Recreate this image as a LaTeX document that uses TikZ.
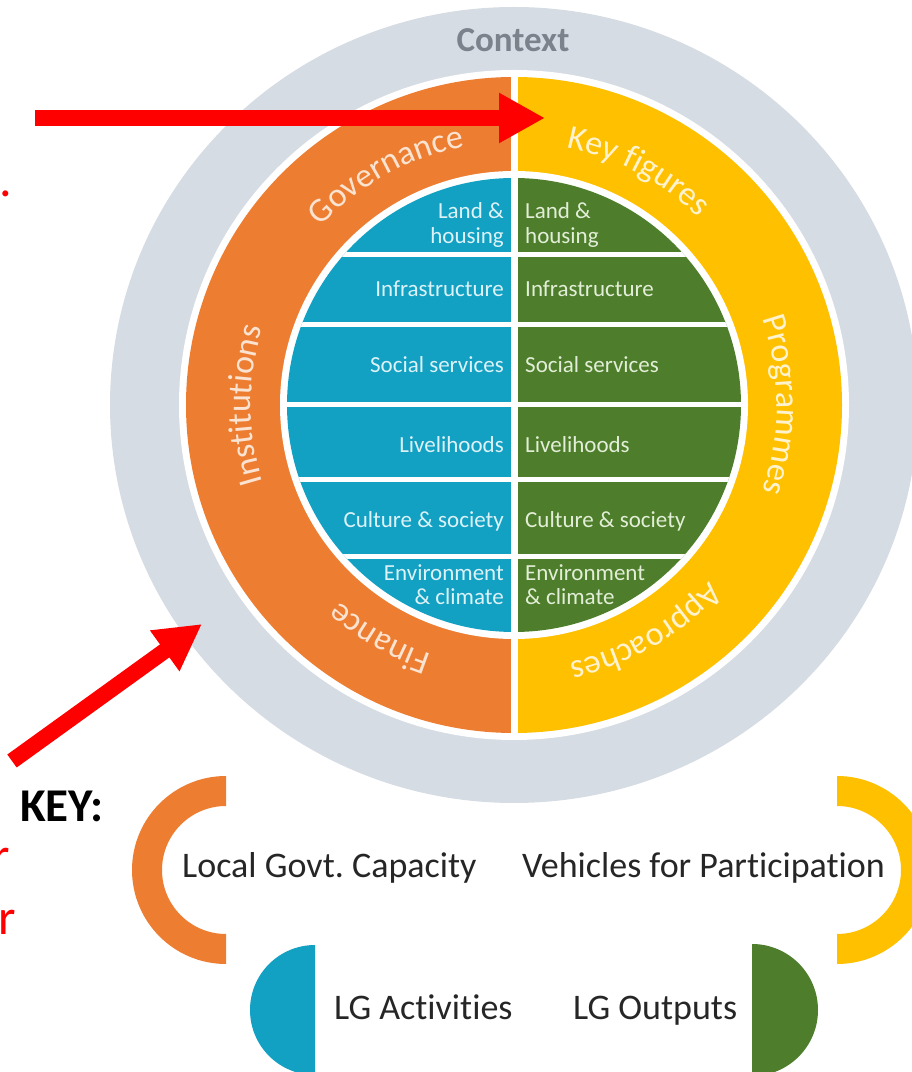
\documentclass[tikz,border=0pt]{standalone}
\usepackage{fontspec}
\setmainfont{Carlito}[Ligatures=NoCommon]
\usetikzlibrary{arrows.meta,decorations.text}

\definecolor{ctxgray}{HTML}{D6DCE4}
\definecolor{ctxtext}{HTML}{7C828C}
\definecolor{capacity}{HTML}{ED7D31}
\definecolor{vehicles}{HTML}{FFC000}
\definecolor{activities}{HTML}{12A1C3}
\definecolor{outputs}{HTML}{4E7E2B}
\definecolor{onorange}{HTML}{FBE3D2}
\definecolor{onyellow}{HTML}{FFF3CF}
\definecolor{onblue}{HTML}{DDF2F7}
\definecolor{ongreen}{HTML}{E3EED8}
\newcommand{\ringfont}{\fontsize{34}{34}\selectfont}

\begin{document}
\begin{tikzpicture}
   [x=1pt,y=1pt,every node/.style={inner sep=0pt},
    rowtext/.style={font=\fontsize{23}{25}\selectfont},
    keytext/.style={anchor=base west,text=black!85,font=\fontsize{36}{38}\selectfont},
    redtext/.style={anchor=base east,text=red,font=\fontsize{50}{50}\selectfont},
    redarrow/.style={draw=red,line width=16pt,-{Triangle[length=46pt,width=47pt]}},
    ringlabel/.style args={#1/#2}{decorate,decoration={text along path,text align=center,text={|\color{#1}\ringfont|#2}}}]
   \useasboundingbox (0,0) rectangle (912,1072);
   \clip (0,0) rectangle (912,1072);
   \coordinate (ctr) at (514,667);
   \fill[ctxgray] (ctr) ellipse [x radius=404,y radius=398];
   \fill[white] (ctr) circle (335);
   \fill[capacity] (ctr) -- ++(90:328) arc[start angle=90,end angle=270,radius=328] -- cycle;
   \fill[vehicles] (ctr) -- ++(90:328) arc[start angle=90,end angle=-90,radius=328] -- cycle;
   \fill[white] (ctr) circle (234);
   \fill[activities] (ctr) -- ++(90:227) arc[start angle=90,end angle=270,radius=227] -- cycle;
   \fill[outputs] (ctr) -- ++(90:227) arc[start angle=90,end angle=-90,radius=227] -- cycle;
   \begin{scope}
      \clip (ctr) circle (227);
      \foreach \yy in {817,747,667,592,515}
         \draw[white,line width=5pt] (250,\yy) -- (780,\yy);
   \end{scope}
   \draw[white,line width=7pt] (514,997) -- (514,337);
   \node[anchor=base,text=ctxtext,font=\fontsize{35}{35}\selectfont\bfseries] (context) at (513,1020) {Context};
   \foreach \ang/\col/\txt in {119/onorange/Governance,62/onyellow/Key figures,180/onorange/Institutions,
                               0/onyellow/Programmes,240/onorange/Finance,300/onyellow/Approaches}
      \path[ringlabel/.expanded={\col/\txt}] (ctr) ++(\ang+40:263) arc[start angle=\ang+40,end angle=\ang-40,radius=263];
   \foreach \yy/\txt in {853/Land \&,828/housing,775/Infrastructure,699/Social services,
                         619/Livelihoods,544/Culture \& society,491/Environment,467/\& climate}
   {
      \node[rowtext,anchor=base east,text=onblue] (act\yy) at (504,\yy) {\txt};
      \node[rowtext,anchor=base west,text=ongreen] (out\yy) at (525,\yy) {\txt};
   }
   \fill[capacity] (226,296) arc[start angle=90,end angle=270,radius=94] -- ++(0,30)
      arc[start angle=270,end angle=90,radius=64] -- cycle;
   \fill[vehicles] (837,296) arc[start angle=90,end angle=-90,radius=94] -- ++(0,30)
      arc[start angle=-90,end angle=90,radius=64] -- cycle;
   \fill[activities] (315,127) arc[start angle=90,end angle=270,radius=65] -- cycle;
   \fill[outputs] (752,128) arc[start angle=90,end angle=-90,radius=66] -- cycle;
   \node[anchor=base west,font=\fontsize{47}{47}\selectfont\bfseries] (key) at (20,250) {KEY:};
   \node[keytext] (lgcap) at (182,194) {Local Govt.\ Capacity};
   \node[keytext] (vehic) at (522,194) {Vehicles for Participation};
   \node[keytext] (lgact) at (334,52) {LG Activities};
   \node[keytext] (lgout) at (573,52) {LG Outputs};
   \node[redtext,anchor=base] (reddot) at (5.5,875) {.};
   \node[redtext] (redra) at (10,199) {r};
   \node[redtext] (redrb) at (16,137) {or};
   \coordinate (htail) at (35,954);
   \coordinate (htip) at (545,954);
   \coordinate (dtail) at (12,311);
   \coordinate (dtip) at (202,448);
   \draw[redarrow] (htail) -- (htip);
   \draw[redarrow] (dtail) -- (dtip);
\end{tikzpicture}
\end{document}
